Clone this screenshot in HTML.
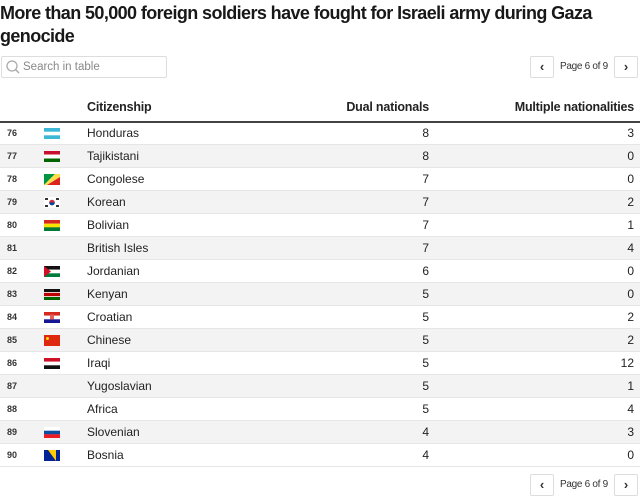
<!DOCTYPE html>
<html><head><meta charset="utf-8"><style>
body{margin:0;width:640px;height:495px;background:#fff;font-family:"Liberation Sans",Arial,sans-serif;color:#222;position:relative;overflow:hidden}
h1{position:absolute;left:0;top:2px;margin:0;font-size:18px;line-height:23px;font-weight:bold;color:#181818;width:640px;letter-spacing:-0.6px;white-space:nowrap}
.search{position:absolute;left:1px;top:56px;width:164px;height:20px;border:1px solid #ddd;border-radius:2px;font-size:11.5px;color:#888;line-height:20px}
.search span{position:absolute;left:21px;top:0}
.pg{position:absolute;top:56px;height:20px;font-size:10px;color:#333;line-height:22px;letter-spacing:-0.3px}
.btn{position:absolute;width:22px;height:20px;border:1px solid #ddd;border-radius:2px;text-align:center;font-size:13px;line-height:19px;color:#333;font-weight:bold}
.hdr{position:absolute;top:100px;font-size:12.5px;font-weight:bold;color:#222;letter-spacing:-0.2px}
.hline{position:absolute;left:0;top:121px;width:640px;height:1.5px;background:#444}
.row{position:absolute;left:0;width:640px;height:23px;border-bottom:1px solid #e6e6e6;font-size:12px;line-height:22px;box-sizing:border-box}
.row.alt{background:#f3f3f3}
.row .n{position:absolute;left:7px;font-size:9px;font-weight:bold;color:#333}
.row .c{position:absolute;left:87px}
.row .d{position:absolute;right:211px}
.row .m{position:absolute;right:6px}
.flag{position:absolute;left:44px;top:6px;width:16px;height:11px}
</style></head><body>
<h1>More than 50,000 foreign soldiers have fought for Israeli army during Gaza<br>genocide</h1>
<div class="search"><svg width="16" height="16" style="position:absolute;left:3px;top:2px"><circle cx="7" cy="7" r="5" fill="none" stroke="#aaa" stroke-width="1.3"/><line x1="10.5" y1="10.5" x2="14" y2="14" stroke="#aaa" stroke-width="1.5"/></svg><span>Search in table</span></div>
<div class="btn" style="left:530px;top:56px">‹</div>
<div class="pg" style="left:560px">Page 6 of 9</div>
<div class="btn" style="left:614px;top:56px">›</div>
<div class="hdr" style="left:87px">Citizenship</div>
<div class="hdr" style="right:211px">Dual nationals</div>
<div class="hdr" style="right:6px">Multiple nationalities</div>
<div class="hline"></div>

<div class="row" style="top:122px"><span class="n">76</span><svg class="flag"><rect width="16" height="11" fill="#fff"/><rect width="16" height="3.7" fill="#3cb8d6"/><rect y="7.3" width="16" height="3.7" fill="#3cb8d6"/></svg><span class="c">Honduras</span><span class="d">8</span><span class="m">3</span></div>
<div class="row alt" style="top:145px"><span class="n">77</span><svg class="flag"><rect width="16" height="11" fill="#fff"/><rect width="16" height="3.5" fill="#c8102e"/><rect y="7.5" width="16" height="3.5" fill="#006400"/></svg><span class="c">Tajikistani</span><span class="d">8</span><span class="m">0</span></div>
<div class="row" style="top:168px"><span class="n">78</span><svg class="flag"><polygon points="0,0 11,0 0,11" fill="#009543"/><polygon points="11,0 16,0 16,3 3,11 0,11" fill="#fbde4a"/><polygon points="16,3 16,11 3,11" fill="#dc241f"/></svg><span class="c">Congolese</span><span class="d">7</span><span class="m">0</span></div>
<div class="row alt" style="top:191px"><span class="n">79</span><svg class="flag"><rect width="16" height="11" fill="#fff"/><circle cx="8" cy="5.5" r="2.8" fill="#cd2e3a"/><path d="M5.2 5.5a2.8 2.8 0 0 0 5.6 0z" fill="#0047a0"/><g fill="#333"><rect x="1" y="1" width="3" height="2"/><rect x="12" y="1" width="3" height="2"/><rect x="1" y="8" width="3" height="2"/><rect x="12" y="8" width="3" height="2"/></g></svg><span class="c">Korean</span><span class="d">7</span><span class="m">2</span></div>
<div class="row" style="top:214px"><span class="n">80</span><svg class="flag"><rect width="16" height="3.7" fill="#d52b1e"/><rect y="3.7" width="16" height="3.7" fill="#f9e300"/><rect y="7.3" width="16" height="3.7" fill="#007934"/></svg><span class="c">Bolivian</span><span class="d">7</span><span class="m">1</span></div>
<div class="row alt" style="top:237px"><span class="n">81</span><span class="c">British Isles</span><span class="d">7</span><span class="m">4</span></div>
<div class="row" style="top:260px"><span class="n">82</span><svg class="flag"><rect width="16" height="3.7" fill="#111"/><rect y="3.7" width="16" height="3.7" fill="#fff"/><rect y="7.3" width="16" height="3.7" fill="#007a3d"/><polygon points="0,0 7,5.5 0,11" fill="#ce1126"/></svg><span class="c">Jordanian</span><span class="d">6</span><span class="m">0</span></div>
<div class="row alt" style="top:283px"><span class="n">83</span><svg class="flag"><rect width="16" height="3.5" fill="#111"/><rect y="3.5" width="16" height="4" fill="#bb0000"/><rect y="7.5" width="16" height="3.5" fill="#006600"/><rect y="3" width="16" height="0.8" fill="#fff"/><rect y="7.2" width="16" height="0.8" fill="#fff"/></svg><span class="c">Kenyan</span><span class="d">5</span><span class="m">0</span></div>
<div class="row" style="top:306px"><span class="n">84</span><svg class="flag"><rect width="16" height="3.7" fill="#d52b1e"/><rect y="3.7" width="16" height="3.7" fill="#fff"/><rect y="7.3" width="16" height="3.7" fill="#171796"/><rect x="6" y="2.5" width="4" height="5" fill="#e06060"/></svg><span class="c">Croatian</span><span class="d">5</span><span class="m">2</span></div>
<div class="row alt" style="top:329px"><span class="n">85</span><svg class="flag"><rect width="16" height="11" fill="#de2910"/><circle cx="3.5" cy="3.5" r="1.5" fill="#ffde00"/></svg><span class="c">Chinese</span><span class="d">5</span><span class="m">2</span></div>
<div class="row" style="top:352px"><span class="n">86</span><svg class="flag"><rect width="16" height="3.7" fill="#ce1126"/><rect y="3.7" width="16" height="3.7" fill="#fff"/><rect y="7.3" width="16" height="3.7" fill="#111"/></svg><span class="c">Iraqi</span><span class="d">5</span><span class="m">12</span></div>
<div class="row alt" style="top:375px"><span class="n">87</span><span class="c">Yugoslavian</span><span class="d">5</span><span class="m">1</span></div>
<div class="row" style="top:398px"><span class="n">88</span><span class="c">Africa</span><span class="d">5</span><span class="m">4</span></div>
<div class="row alt" style="top:421px"><span class="n">89</span><svg class="flag"><rect width="16" height="3.7" fill="#fff"/><rect y="3.7" width="16" height="3.7" fill="#0b4ea2"/><rect y="7.3" width="16" height="3.7" fill="#ed1c24"/></svg><span class="c">Slovenian</span><span class="d">4</span><span class="m">3</span></div>
<div class="row" style="top:444px"><span class="n">90</span><svg class="flag"><rect width="16" height="11" fill="#002395"/><polygon points="4,0 12,0 12,11" fill="#fecb00"/></svg><span class="c">Bosnia</span><span class="d">4</span><span class="m">0</span></div>

<div class="btn" style="left:530px;top:474px">‹</div>
<div class="pg" style="left:560px;top:474px">Page 6 of 9</div>
<div class="btn" style="left:614px;top:474px">›</div>
</body></html>
